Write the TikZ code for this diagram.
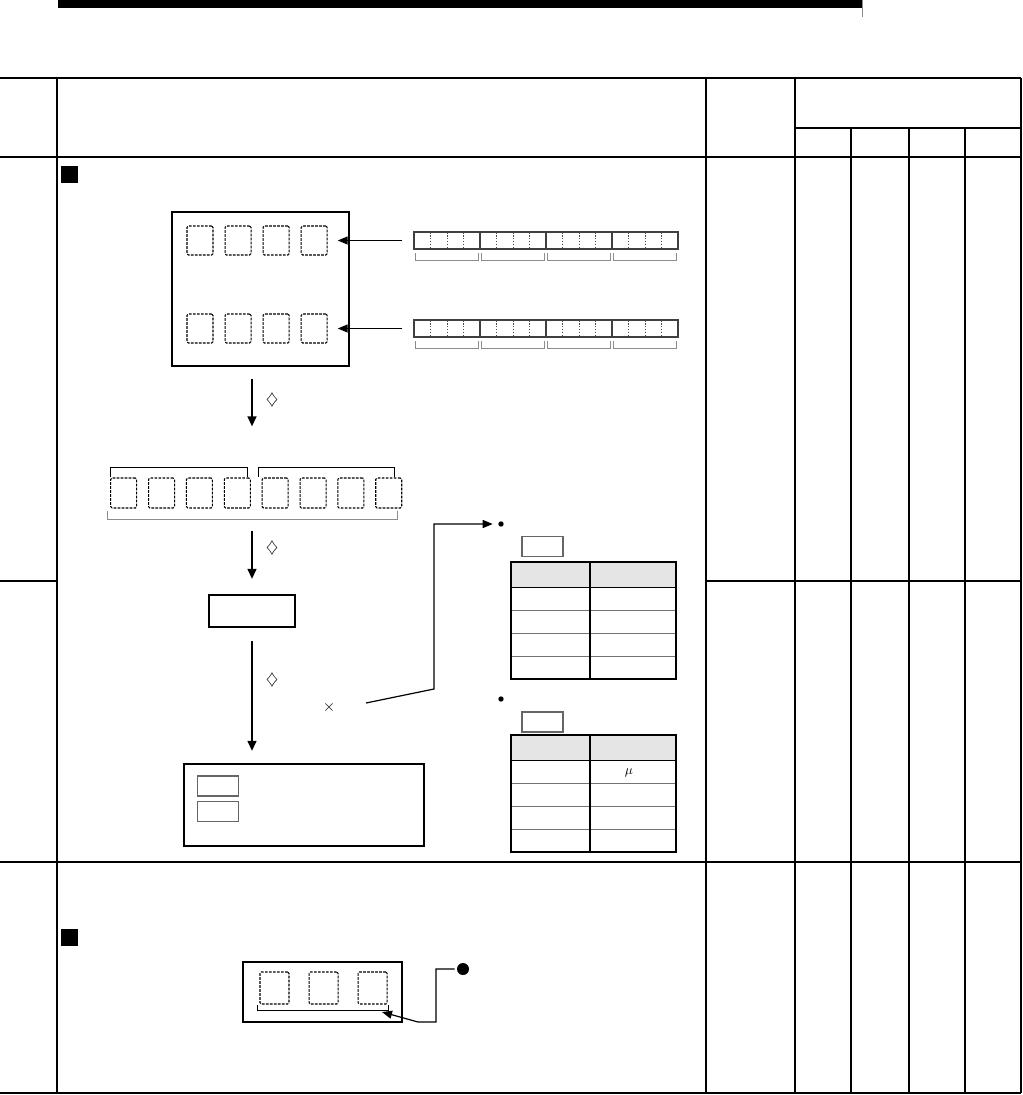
\documentclass[tikz,border=0pt]{standalone}
\usepackage{tikz}
\usetikzlibrary{arrows.meta, positioning, calc}
\usepackage{xcolor}
\definecolor{HeadGray}{HTML}{E5E5E5}
\definecolor{RuleGray}{HTML}{8C8C8C}

\begin{document}
\begin{tikzpicture}[
        x=0.75pt, y=-0.75pt,
        heavy/.style={line width=2pt},
        medium/.style={line width=1.4pt},
        light/.style={line width=0.8pt},
        devbox/.style={rectangle, draw, line width=1.8pt, inner sep=0pt},
        digit/.style={rectangle, draw, rounded corners=1pt, dash pattern=on 2pt off 1pt, line width=0.8pt, minimum width=19.5pt, minimum height=21.75pt, inner sep=0pt},
        regbox/.style={rectangle, draw=black!75, line width=0.8pt, minimum width=198pt, minimum height=12.75pt, inner sep=0pt},
        tagbox/.style={rectangle, draw=black!60, line width=0.8pt, minimum width=30.75pt, minimum height=15pt, inner sep=0pt},
        bullet/.style={circle, fill, minimum size=4pt, inner sep=0pt},
        sym/.style={font=\large, inner sep=0pt},
        brace/.style={draw=RuleGray, line width=0.6pt},
        connector/.style={draw, -{Triangle[length=7.5pt,width=6pt]}, line width=0.9pt},
        flow/.style={draw, -{Triangle[length=7.5pt,width=6.5pt]}, line width=1.5pt}
    ]
        \useasboundingbox (0,0) rectangle (1023,1095);

        % Page frame
        \fill (58,0) rectangle (862,8);
        \draw [RuleGray, line width=0.6pt] (862,0) -- (862,17);
        \draw [heavy] (0,78) -- (1021,78);
        \draw [heavy] (0,157) -- (1021,157);
        \draw [heavy] (0,1093) -- (1021,1093);
        \draw [medium] (0,581) -- (57,581) (706,581) -- (1021,581);
        \draw [medium] (0,862) -- (1021,862);
        \draw [light] (57,78) -- (57,1093);
        \draw [light] (706,78) -- (706,1093);
        \draw [medium] (795,78) -- (795,1093);
        \draw [light] (795,128) -- (1021,128);
        \draw [light] (851,128) -- (851,1093);
        \draw [light] (909,128) -- (909,1093);
        \draw [medium] (965,128) -- (965,1093);
        \draw [heavy] (1021,78) -- (1021,1093);
        \fill (61,166) rectangle (78,183);
        \fill (61,929) rectangle (78,946);

        % Nodes
        \node (unit) [devbox, minimum width=132.75pt, minimum height=115.5pt] at (260.5,289) {};
        \node (dA1) [digit] at (200,240.5) {};
        \node (dA2) [digit, right=8.25pt of dA1] {};
        \node (dA3) [digit, right=8.25pt of dA2] {};
        \node (dA4) [digit, right=8.25pt of dA3] {};
        \node (dB1) [digit] at (200,328.5) {};
        \node (dB2) [digit, right=8.25pt of dB1] {};
        \node (dB3) [digit, right=8.25pt of dB2] {};
        \node (dB4) [digit, right=8.25pt of dB3] {};

        \node (regA) [regbox] at (546,240.5) {};
        \node (regB) [regbox] at (546,328.5) {};
        \foreach \ty in {232,320} {
            \foreach \i in {1,...,15} \draw [black!70, dash pattern=on 1.2pt off 1pt, line width=0.5pt] (414+16.5*\i,\ty) -- ++(0,17);
            \foreach \i in {4,8,12} \draw [black!75, line width=0.8pt] (414+16.5*\i,\ty) -- ++(0,17);
            \foreach \a in {0,...,3} \draw [brace] (415+66*\a,\ty+21) |- (478+66*\a,\ty+28) -- ++(0,-7);
        }

        \node (r1) [digit, minimum height=22.5pt] at (123.7,493) {};
        \node (r2) [digit, minimum height=22.5pt, right=8.1pt of r1] {};
        \node (r3) [digit, minimum height=22.5pt, right=8.1pt of r2] {};
        \node (r4) [digit, minimum height=22.5pt, right=8.1pt of r3] {};
        \node (r5) [digit, minimum height=22.5pt, right=8.1pt of r4] {};
        \node (r6) [digit, minimum height=22.5pt, right=8.1pt of r5] {};
        \node (r7) [digit, minimum height=22.5pt, right=8.1pt of r6] {};
        \node (r8) [digit, minimum height=22.5pt, right=8.1pt of r7] {};
        \draw [brace, black] (110,477) |- (247,467) -- ++(0,10);
        \draw [brace, black] (258,477) |- (394,467) -- ++(0,10);
        \draw [brace] (107,511) |- (397,519) -- ++(0,-8);

        \node (proc) [devbox, line width=1.6pt, minimum width=64.5pt, minimum height=24pt] at (252,611) {};
        \node (result) [devbox, line width=1.6pt, minimum width=180pt, minimum height=61.5pt] at (304,805) {};
        \node (tagC) [tagbox] at (217.75,786) {};
        \node (tagD) [tagbox, below=3pt of tagC] {};

        \node (dmA) [sym] at (272,400) {$\diamondsuit$};
        \node (dmB) [sym] at (272,548) {$\diamondsuit$};
        \node (dmC) [sym] at (272,680) {$\diamondsuit$};
        \node (cross) [sym] at (329,707) {$\times$};

        \node (dotA) [bullet] at (501,524) {};
        \node (dotB) [bullet] at (501,699) {};
        \node (tagA) [tagbox] at (542.5,546.5) {};
        \node (tagB) [tagbox] at (542.5,722) {};
        \foreach \ty in {562,735} {
            \fill [HeadGray] (511,\ty) rectangle (676,\ty+25.5);
            \foreach \r in {48.5,71,94} \draw [black!55, line width=0.7pt] (511,\ty+\r) -- (676,\ty+\r);
            \draw [line width=1pt] (511,\ty+25.5) -- (676,\ty+25.5);
            \draw [line width=1pt] (590,\ty) -- (590,\ty+117);
            \draw [line width=1.3pt] (511,\ty) rectangle (676,\ty+117);
        }
        \node (mu) [sym, font=\normalsize] at (629,773) {$\mu$};

        \node (disp) [devbox, minimum width=119.25pt, minimum height=45pt] at (322.5,992) {};
        \node (dC1) [digit, minimum width=21.75pt, minimum height=24pt] at (274.5,988) {};
        \node (dC2) [digit, minimum width=21.75pt, minimum height=24pt, right=14.25pt of dC1] {};
        \node (dC3) [digit, minimum width=21.75pt, minimum height=24pt, right=14.25pt of dC2] {};
        \draw [line width=0.6pt] (257,1005) |- (388,1010) -- ++(0,-5);
        \node (dotC) [bullet, minimum size=9pt] at (463,969) {};
        \coordinate (xtail) at (366,703);
        \coordinate (kink) at (434,689);
        \coordinate (drop) at (436,1022);
        \coordinate (foot) at (418,1022);
        \coordinate (aim) at (382,1012);

        % Connectors
        \draw [connector] ([xshift=-8.25pt]regA.west) -- ([xshift=7.5pt]dA4.east);
        \draw [connector] ([xshift=-8.25pt]regB.west) -- ([xshift=7.5pt]dB4.east);
        \draw [flow] ($(unit.south -| proc)+(0,12)$) -- ($(r1.north -| proc)+(0,-51)$);
        \draw [flow] ($(r1.south -| proc)+(0,22)$) -- ($(proc.north)+(0,-15)$);
        \draw [flow] ($(proc.south)+(0,13)$) -- ($(proc.south |- result.north)+(0,-12)$);
        \draw [connector] (xtail) -- (kink) |- ([xshift=-4pt]dotA.west);
        \draw [connector] ([xshift=-1.5pt]dotC.west) -| (drop) -- (foot) -- (aim);
    \end{tikzpicture}
\end{document}
